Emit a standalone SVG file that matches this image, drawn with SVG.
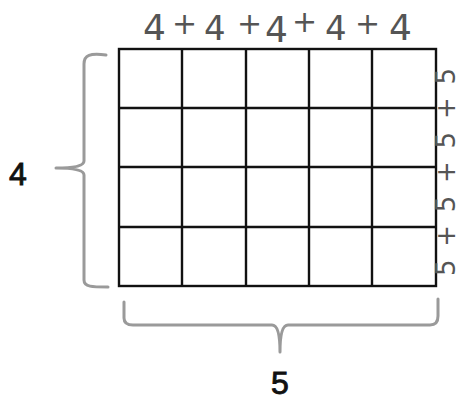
<svg xmlns="http://www.w3.org/2000/svg" width="462" height="401" viewBox="0 0 462 401">
<style>
.grid{fill:none;stroke:#111;stroke-width:2.4}
.brace{fill:none;stroke:#9a9a9a;stroke-width:3;stroke-linecap:round;stroke-linejoin:round}
.hand{font-family:"DejaVu Sans",sans-serif;fill:#555;font-weight:normal}
.num{font-family:"Liberation Sans",Arial,sans-serif;fill:#111;font-size:32px;stroke:#111;stroke-width:0.9}
</style>
<rect width="462" height="401" fill="#fff"/>
<g id="grid">
<rect class="grid" x="119" y="49" width="317" height="237"/>
<path class="grid" d="M182,49V286M246,49V286M309,49V286M372,49V286M119,108H436M119,167H436M119,227H436"/>
</g>
<g id="top-label" class="hand">
<text x="143" y="40" font-size="36">4</text>
<text x="172" y="34" font-size="30">+</text>
<text x="204" y="40" font-size="34">4</text>
<text x="237" y="34" font-size="30">+</text>
<text x="265" y="42" font-size="36">4</text>
<text x="292" y="32" font-size="30">+</text>
<text x="325" y="40" font-size="34">4</text>
<text x="355" y="34" font-size="30">+</text>
<text x="389" y="40" font-size="36">4</text>
</g>
<g id="right-label" class="hand">
<text transform="translate(455,172) rotate(-90)" x="0" y="0" font-size="26" text-anchor="middle" textLength="208" lengthAdjust="spacing">5+5+5+5</text>
</g>
<g id="connectors">
<path class="brace" d="M106,55 C90,53 84,55 84,64 L84,161 Q84,168 56,168 Q84,168 84,175 L84,280 C84,287 92,287 108,287"/>
<path class="brace" d="M124,302 L124,318 Q124,325 133,325 L272,325 Q280,325 280,352 Q280,325 288,325 L430,325 Q438,325 438,316 L438,299"/>
</g>
<g id="label-4">
<text class="num" x="9" y="185">4</text>
</g>
<g id="label-5">
<text class="num" x="271" y="394">5</text>
</g>
</svg>
